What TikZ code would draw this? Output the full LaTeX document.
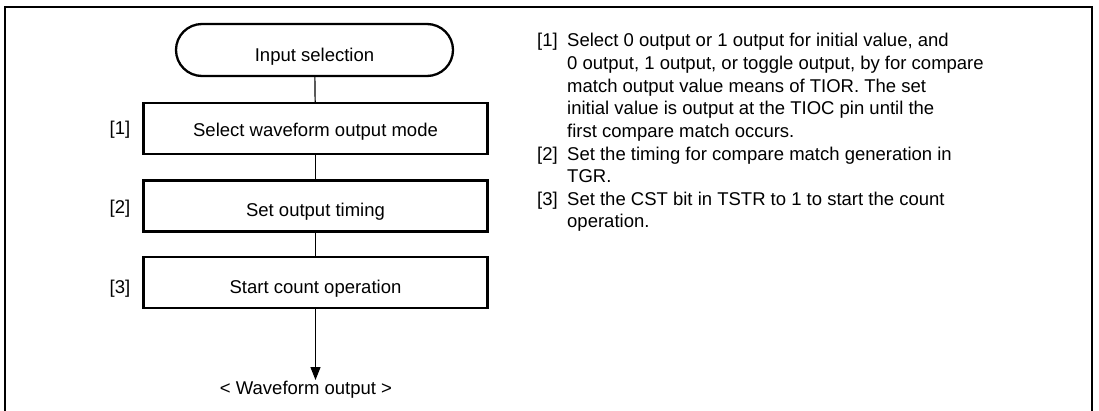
\documentclass[tikz,border=0pt]{standalone}
\usepackage{fontspec}
\setmainfont{Liberation Sans}
\usetikzlibrary{shapes.misc,arrows.meta}
\begin{document}
\begin{tikzpicture}[x=1pt,y=-1pt,
  every node/.style={font=\fontsize{18.5}{22.65}\selectfont, inner sep=0pt},
  stepbox/.style={draw, line width=2.3pt, minimum width=344pt, minimum height=51pt},
  term/.style={draw, line width=2.3pt, rounded rectangle, minimum width=277pt, minimum height=52pt},
  link/.style={line width=1.2pt},
  lbl/.style={anchor=base},
  txt/.style={anchor=base west}]
\useasboundingbox (0,0) rectangle (1099,410);
\draw[line width=2.3pt] (5,411) -- (5,7) -- (1092,7) -- (1092,411);
% flowchart
\node[term] (start) at (314.5,50) {};
\node[lbl] (startt) at (314.5,61) {Input selection};
\node[stepbox] (b1) at (315.5,128.5) {};
\node[lbl] (b1t) at (315.5,136) {Select waveform output mode};
\node[stepbox] (b2) at (315.5,206) {};
\node[lbl] (b2t) at (315.5,216.5) {Set output timing};
\node[stepbox] (b3) at (315.5,282.5) {};
\node[lbl] (b3t) at (315.5,293) {Start count operation};
\coordinate (tip) at (315.5,380);
\node[lbl] (out) at (306,394) {< Waveform output >};
\node[lbl] (l1) at (120,134.5) {[1]};
\node[lbl] (l2) at (120,213.5) {[2]};
\node[lbl] (l3) at (120,293) {[3]};
\draw[link] (start) -- (b1);
\draw[link] (b1) -- (b2);
\draw[link] (b2) -- (b3);
\draw[link,-{Triangle[length=13pt,width=10pt]}] (b3) -- (tip);
% notes
\node[txt] (n1) at (537,46.7) {[1]};
\node[txt] (t1a) at (567,46.7) {Select 0 output or 1 output for initial value, and};
\node[txt] (t1b) at (567,69.3) {0 output, 1 output, or toggle output, by for compare};
\node[txt] (t1c) at (567,92) {match output value means of TIOR. The set};
\node[txt] (t1d) at (567,114.6) {initial value is output at the TIOC pin until the};
\node[txt] (t1e) at (567,137.3) {first compare match occurs.};
\node[txt] (n2) at (537,160) {[2]};
\node[txt] (t2a) at (567,160) {Set the timing for compare match generation in};
\node[txt] (t2b) at (567,182.6) {TGR.};
\node[txt] (n3) at (537,205.2) {[3]};
\node[txt] (t3a) at (567,205.2) {Set the CST bit in TSTR to 1 to start the count};
\node[txt] (t3b) at (567,227.9) {operation.};
\end{tikzpicture}
\end{document}
